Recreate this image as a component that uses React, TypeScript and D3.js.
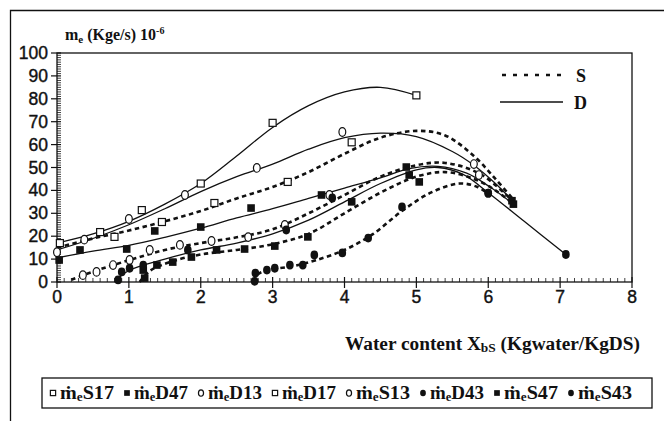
import * as d3 from "d3";

// ---- data (x = water content, y = evaporation rate 1e-6 kg/s) ----
const xTicks = [0, 1, 2, 3, 4, 5, 6, 7, 8];
const yTicks = [0, 10, 20, 30, 40, 50, 60, 70, 80, 90, 100];

// fitted trend lines
const d17Curve = [[0, 17], [0.5, 21], [1, 26.5], [1.5, 34], [2, 43], [2.5, 55], [3, 67.5], [3.5, 77], [4, 83], [4.5, 85], [5, 81.5]];
const d13Curve = [[0, 14], [0.5, 19], [1, 25], [1.5, 32], [2, 39.5], [2.5, 46], [3, 51.5], [3.5, 58], [4, 63], [4.5, 65], [5, 63.5], [5.5, 57], [5.8, 51], [6.1, 43], [6.35, 35]];
const s17Curve = [[0, 15], [0.5, 19], [1, 22.5], [1.5, 26.5], [2, 31], [2.5, 36.5], [3, 41.5], [3.5, 48], [4, 56], [4.5, 63], [5, 66], [5.4, 64], [5.8, 55], [6.1, 45], [6.35, 36]];
const s13Curve = [[0.2, 1], [0.5, 4.5], [1, 9.5], [1.5, 14], [2, 17], [2.5, 19.5], [3, 23], [3.5, 30], [4, 38], [4.5, 46], [5, 51], [5.4, 52], [5.9, 47], [6.35, 35]];
const d47Curve = [[0, 10.5], [0.5, 13.5], [1, 16], [1.5, 19.5], [2, 23.5], [2.5, 28], [3, 32], [3.5, 36.5], [4, 41], [4.5, 45.5], [4.9, 49.5], [5.3, 50.5], [5.7, 47.5], [6, 42], [6.35, 34]];
const s47Curve = [[1.15, 0], [1.3, 5], [1.6, 9], [2, 12], [2.5, 14], [3, 16.5], [3.5, 21], [4, 30], [4.5, 39], [5, 46], [5.4, 48], [5.8, 45], [6.1, 40], [6.35, 34]];
const d43Curve = [[0.8, 0], [1, 5], [1.5, 10], [2, 14], [2.5, 17], [3, 21], [3.5, 27], [4, 35], [4.5, 43], [5, 49], [5.3, 50], [5.65, 47], [6, 39], [6.5, 26.5], [7.08, 12]];
const s43Curve = [[2.75, 0], [2.8, 3.5], [3, 5.5], [3.3, 7], [3.6, 9.5], [4, 14], [4.4, 21], [4.8, 31], [5.2, 39], [5.6, 43], [5.85, 41.5], [6, 38.5]];

// measured points
const d17Points = [[0.04, 17], [1.18, 31.4], [2, 43], [3, 69.5], [5, 81.5]];
const s17Points = [[0.6, 21.8], [0.8, 19.7], [1.46, 26.2], [2.19, 34.5], [3.21, 43.7], [4.1, 61]];
const d13Points = [[0, 13], [0.38, 18.5], [1, 27.5], [1.78, 38], [2.78, 49.8], [3.97, 65.5], [5.8, 51.5]];
const s13Points = [[0.36, 3], [0.55, 4.4], [0.78, 7.4], [1.01, 9.6], [1.29, 14], [1.71, 16.2], [2.15, 17.9], [2.66, 19.6], [3.17, 24.9], [3.79, 38], [5.87, 46.7]];
const d47Points = [[0.03, 9.6], [0.32, 14], [0.97, 14.4], [1.36, 22.3], [2, 24], [2.7, 32.3], [3.68, 38], [4.86, 50.2], [6.35, 34]];
const s47Points = [[1.22, 1.7], [1.2, 5.2], [1.39, 7.4], [1.61, 8.7], [1.87, 10.9], [2.22, 14], [2.61, 14.4], [3.03, 15.7], [3.49, 19.7], [4.1, 35], [4.9, 46.7], [5.04, 43.7], [6.33, 35.5]];
const d43Points = [[0.85, 0.9], [0.9, 4.4], [1.01, 6], [1.2, 7.4], [1.82, 14], [3.19, 22.7], [3.83, 36.7], [6, 38.8], [7.08, 12]];
const s43Points = [[2.75, 0.3], [2.76, 3.9], [2.92, 5.2], [3.03, 6], [3.24, 7.4], [3.42, 7.4], [3.58, 11.8], [3.97, 12.7], [4.33, 19.2], [4.8, 32.8], [6, 38.8]];

const legendNames = ["S17", "D47", "D13", "D17", "S13", "D43", "S47", "S43"];
const legendMarkers = ["openSquare", "filledSquare", "openCircle", "openSquare", "openCircle", "filledCircle", "filledSquare", "filledCircle"];

const series = [
  { curve: s17Curve, points: s17Points, marker: "openSquare", dashed: true },
  { curve: d17Curve, points: d17Points, marker: "openSquare", dashed: false },
  { curve: s13Curve, points: s13Points, marker: "openCircle", dashed: true },
  { curve: d13Curve, points: d13Points, marker: "openCircle", dashed: false },
  { curve: s47Curve, points: s47Points, marker: "filledSquare", dashed: true },
  { curve: d47Curve, points: d47Points, marker: "filledSquare", dashed: false },
  { curve: s43Curve, points: s43Points, marker: "filledCircle", dashed: true },
  { curve: d43Curve, points: d43Points, marker: "filledCircle", dashed: false },
];

const INK = "#111";
const SERIF = "'Liberation Serif', 'Times New Roman', serif";
const SANS = "'Liberation Sans', Arial, sans-serif";

function Marker({ kind, cx, cy, s = 1 }: { kind: string; cx: number; cy: number; s?: number }) {
  if (kind === "openSquare")
    return <rect x={cx - 3.5 * s} y={cy - 3.5 * s} width={7 * s} height={7 * s} fill="#fff" stroke={INK} strokeWidth={1.2} />;
  if (kind === "filledSquare")
    return <rect x={cx - 3.8 * s} y={cy - 3.8 * s} width={7.6 * s} height={7.6 * s} fill={INK} />;
  if (kind === "openCircle")
    return <ellipse cx={cx} cy={cy} rx={3.4 * s} ry={4.3 * s} fill="#fff" stroke={INK} strokeWidth={1.2} />;
  return <ellipse cx={cx} cy={cy} rx={3.8 * s} ry={4.4 * s} fill={INK} />;
}

export default function App() {
  const x = d3.scaleLinear().domain([0, 8]).range([57, 632]);
  const y = d3.scaleLinear().domain([0, 100]).range([282, 53]);
  const line = d3
    .line<number[]>()
    .x((d) => x(d[0]))
    .y((d) => y(d[1]))
    .curve(d3.curveCatmullRom.alpha(0.5));

  const xMinor = d3.range(0, 80).map((i) => i / 10).filter((v) => v % 1 !== 0);
  const yMinor = d3.range(0, 100).filter((v) => v % 10 !== 0);
  const legendX = [50, 124, 198, 272, 346, 420, 494, 568];

  return (
    <svg width={664} height={421} style={{ position: "absolute", left: 0, top: 0, background: "#fff" }}>
      {/* outer frame */}
      <path d="M10.5,421 V10.5 H664" fill="none" stroke={INK} strokeWidth={1.3} />

      {/* plot box */}
      <rect x={x(0)} y={y(100)} width={x(8) - x(0)} height={y(0) - y(100)} fill="none" stroke={INK} strokeWidth={1.3} />

      {/* y ticks */}
      {yTicks.map((t) => (
        <g key={"y" + t}>
          <line x1={x(0) - 6} x2={x(0) + 4} y1={y(t)} y2={y(t)} stroke={INK} strokeWidth={1.2} />
          <text x={48} y={y(t) + 6} textAnchor="end" fontFamily={SANS} fontSize={17.5} fill={INK} stroke={INK} strokeWidth={0.4}>
            {t}
          </text>
        </g>
      ))}
      {yMinor.map((t) => (
        <line key={"ym" + t} x1={x(0)} x2={x(0) + 4} y1={y(t)} y2={y(t)} stroke={INK} strokeWidth={0.8} />
      ))}

      {/* x ticks */}
      {xTicks.map((t) => (
        <g key={"x" + t}>
          <line x1={x(t)} x2={x(t)} y1={y(0) - 5} y2={y(0) + 6} stroke={INK} strokeWidth={1.2} />
          <text x={x(t)} y={303} textAnchor="middle" fontFamily={SANS} fontSize={17.5} fill={INK} stroke={INK} strokeWidth={0.4}>
            {t}
          </text>
        </g>
      ))}
      {xMinor.map((t) => (
        <line key={"xm" + t} x1={x(t)} x2={x(t)} y1={y(0) - 4} y2={y(0)} stroke={INK} strokeWidth={0.8} />
      ))}

      {/* axis titles */}
      <text x={65} y={40} fontFamily={SERIF} fontWeight="bold" fontSize={16} fill={INK}>
        m<tspan fontSize={11} dy={3}>e</tspan>
        <tspan dy={-3}> (Kge/s) 10</tspan>
        <tspan fontSize={10} dy={-6}>-6</tspan>
      </text>
      <text x={345} y={350} fontFamily={SERIF} fontWeight="bold" fontSize={18} fill={INK} textLength={295} lengthAdjust="spacingAndGlyphs">
        Water content X<tspan fontSize={12.5} dy={2}>bS</tspan>
        <tspan dy={-2}> (Kgwater/KgDS)</tspan>
      </text>

      {/* trend lines */}
      {series.map((s, i) => (
        <path
          key={"c" + i}
          d={line(s.curve) ?? ""}
          fill="none"
          stroke={INK}
          strokeWidth={s.dashed ? 2.6 : 1.3}
          strokeDasharray={s.dashed ? "4.5 3.5" : undefined}
        />
      ))}

      {/* measured points */}
      {series.map((s, i) =>
        s.points.map((p, j) => <Marker key={`m${i}-${j}`} kind={s.marker} cx={x(p[0])} cy={y(p[1])} />)
      )}

      {/* S / D legend */}
      <line x1={502} x2={566} y1={75} y2={75} stroke={INK} strokeWidth={2.6} strokeDasharray="4 7" />
      <text x={576} y={82} fontFamily={SERIF} fontWeight="bold" fontSize={18} fill={INK}>S</text>
      <line x1={500} x2={563} y1={102} y2={102} stroke={INK} strokeWidth={1.6} />
      <text x={574} y={109} fontFamily={SERIF} fontWeight="bold" fontSize={18} fill={INK}>D</text>

      {/* bottom legend */}
      <rect x={42} y={378} width={610} height={30} fill="#fff" stroke={INK} strokeWidth={1.3} />
      {legendNames.map((name, i) => (
        <g key={"lg" + name}>
          <Marker kind={legendMarkers[i]} cx={legendX[i] + 3} cy={393} s={0.75} />
          <text x={legendX[i] + 10} y={399} fontFamily={SERIF} fontWeight="bold" fontSize={19} fill={INK} textLength={54} lengthAdjust="spacingAndGlyphs">
            ṁ<tspan fontSize={12.5} dy={2}>e</tspan>
            <tspan dy={-2}>{name}</tspan>
          </text>
        </g>
      ))}
    </svg>
  );
}
